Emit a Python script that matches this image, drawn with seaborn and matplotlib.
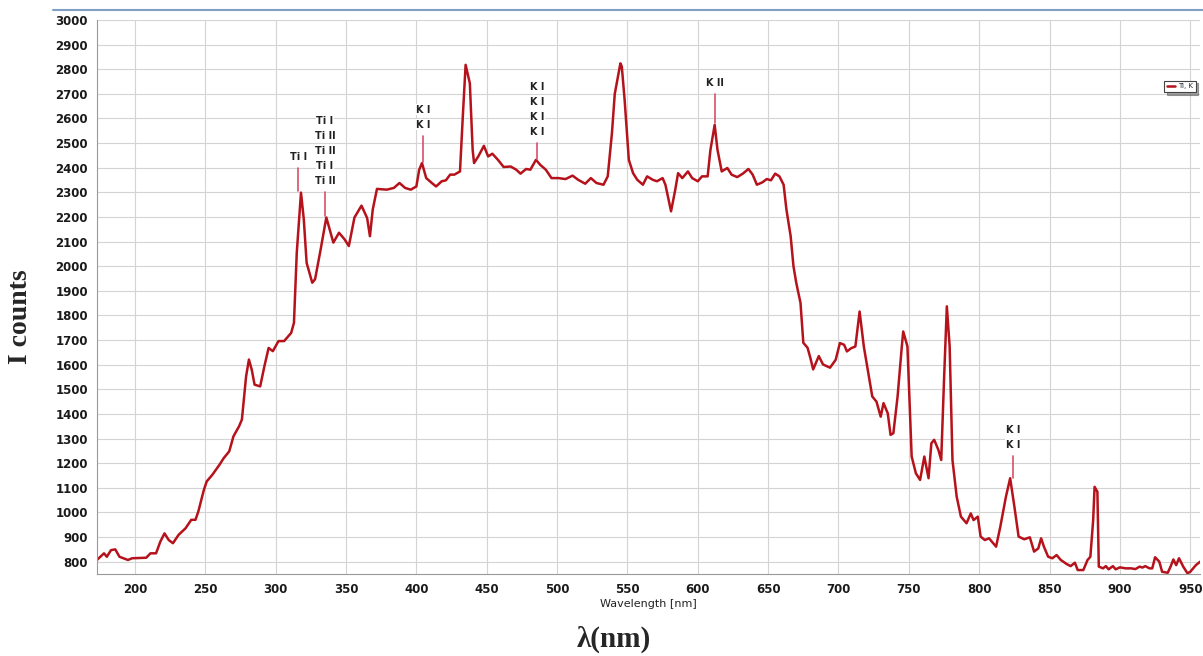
import matplotlib
matplotlib.use("Agg")
from matplotlib import pyplot as plt
from matplotlib.lines import Line2D
import matplotlib.ticker as ticker
import seaborn as sns
import pandas as pd

# spectrum: wavelength [nm] and intensity [counts]
wavelength = [
    173, 178, 180, 183, 186, 189, 195, 198, 208, 211, 215, 218, 221, 224, 227, 231,
    236, 240, 243, 245, 249, 251, 255, 260, 263, 267, 270, 274, 276, 279, 281, 283,
    285, 289, 292, 295, 298, 302, 306, 311, 313, 315, 318, 320, 322, 326, 328, 332,
    336, 338, 341, 345, 349, 352, 356, 361, 365, 367, 369, 372, 379, 384, 388, 392,
    396, 400, 402, 404, 407, 411, 414, 418, 421, 424, 427, 431, 433, 435, 438, 440,
    441, 444, 448, 451, 454, 458, 462, 467, 471, 474, 478, 481, 485, 488, 492, 496,
    501, 506, 511, 515, 520, 524, 528, 533, 536, 539, 541, 543, 545, 546, 548, 551,
    554, 557, 561, 564, 568, 571, 575, 577, 581, 584, 586, 589, 593, 596, 600, 603,
    607, 609, 612, 614, 617, 621, 624, 628, 632, 636, 639, 642, 646, 649, 652, 655,
    658, 661, 663, 666, 668, 670, 673, 675, 678, 680, 682, 686, 689, 694, 698, 701,
    704, 706, 709, 712, 715, 718, 720, 724, 727, 730, 732, 735, 737, 739, 742, 745,
    746, 749, 752, 755, 758, 761, 764, 766, 768, 771, 773, 775, 777, 779, 781, 784,
    787, 791, 794, 796, 799, 801, 804, 807, 812, 815, 819, 822, 825, 828, 832, 836,
    839, 842, 844, 846, 849, 852, 855, 858, 862, 865, 868, 870, 874, 877, 879, 881,
    882, 884, 885, 888, 890, 892, 895, 897, 900, 904, 908, 911, 914, 916, 918, 921,
    923, 925, 928, 930, 934, 936, 938, 940, 942, 945, 948, 950, 954, 957,
]
counts = [
    807, 834, 820, 847, 850, 820, 807, 814, 816, 834, 834, 881, 915, 888, 875, 909,
    936, 970, 970, 1003, 1092, 1126, 1153, 1193, 1220, 1248, 1309, 1350, 1377, 1553, 1621, 1580,
    1519, 1512, 1594, 1668, 1655, 1696, 1696, 1729, 1770, 2055, 2299, 2190, 2014, 1933, 1947, 2069,
    2198, 2157, 2096, 2136, 2109, 2082, 2198, 2246, 2196, 2122, 2230, 2314, 2311, 2318, 2338, 2318,
    2311, 2324, 2392, 2419, 2358, 2338, 2324, 2345, 2349, 2372, 2372, 2385, 2608, 2818, 2743, 2473,
    2419, 2446, 2489, 2446, 2457, 2432, 2403, 2405, 2392, 2376, 2395, 2392, 2432, 2412, 2392, 2358,
    2358, 2354, 2368, 2351, 2335, 2358, 2338, 2331, 2365, 2541, 2700, 2762, 2824, 2811, 2676, 2432,
    2378, 2351, 2331, 2365, 2351, 2345, 2358, 2331, 2223, 2311, 2378, 2358, 2385, 2358, 2345, 2365,
    2365, 2473, 2574, 2473, 2385, 2399, 2372, 2362, 2376, 2395, 2372, 2331, 2341, 2354, 2349, 2376,
    2365, 2331, 2230, 2122, 2000, 1932, 1851, 1689, 1669, 1628, 1581, 1635, 1601, 1588, 1620, 1688,
    1681, 1654, 1667, 1674, 1816, 1674, 1606, 1471, 1450, 1389, 1444, 1403, 1315, 1322, 1471, 1674,
    1735, 1674, 1227, 1159, 1132, 1227, 1139, 1281, 1295, 1254, 1213, 1538, 1837, 1674, 1213, 1064,
    983, 956, 996, 969, 983, 902, 888, 895, 861, 942, 1064, 1139, 1024, 902, 891, 899,
    841, 854, 895, 861, 820, 814, 827, 807, 791, 782, 796, 766, 766, 807, 820, 969,
    1104, 1084, 780, 773, 782, 769, 782, 769, 777, 773, 773, 770, 780, 776, 782, 773,
    773, 818, 800, 759, 755, 780, 809, 786, 814, 780, 753, 759, 786, 800,
]

# line identifications: position, label lines, text top and marker span
ident_x = [316, 335, 405, 486, 612.5, 824]
ident_text = [
    ["Ti I"],
    ["Ti I", "Ti II", "Ti II", "Ti I", "Ti II"],
    ["K I", "K I"],
    ["K I", "K I", "K I", "K I"],
    ["K II"],
    ["K I", "K I"],
]
ident_line_top = [2400, 2300, 2530, 2500, 2700, 1230]
ident_line_bottom = [2305, 2205, 2425, 2435, 2580, 1140]

df = pd.DataFrame({"wavelength": wavelength, "counts": counts})

sns.set_style("whitegrid")
plt.rcParams["font.family"] = ["DejaVu Sans"]

fig = plt.figure(figsize=(12.03, 6.56), dpi=100)
ax = fig.add_axes([0.0806, 0.125, 0.917, 0.8445])

sns.lineplot(data=df, x="wavelength", y="counts", ax=ax, color="#b5121b",
             linewidth=1.8, label="Ti, K")

ax.set_xlim(173, 957)
ax.set_ylim(750, 3000)
ax.xaxis.set_major_locator(ticker.MultipleLocator(50))
ax.xaxis.set_minor_locator(ticker.MultipleLocator(12.5))
ax.yaxis.set_major_locator(ticker.MultipleLocator(100))
ax.grid(True, which="major", color="#d4d4d4", linewidth=0.8)
ax.tick_params(axis="both", which="major", labelsize=8.5, labelcolor="#1a1a1a",
               length=3, color="#888888", direction="out")
ax.tick_params(axis="x", which="minor", length=2, color="#888888")
for lab in ax.get_xticklabels() + ax.get_yticklabels():
    lab.set_fontweight("semibold")

for side in ["top", "right"]:
    ax.spines[side].set_visible(False)
ax.spines["left"].set_color("#999999")
ax.spines["left"].set_linestyle((0, (2, 1)))
ax.spines["bottom"].set_color("#999999")

ax.set_xlabel("Wavelength [nm]", fontsize=8, color="#222222", labelpad=2)
ax.set_ylabel("")

# identification markers
for x, texts, top, bottom in zip(ident_x, ident_text, ident_line_top, ident_line_bottom):
    ax.plot([x, x], [bottom, top], color="#d9506a", linewidth=1.2)
    y = top + 25
    for t in reversed(texts):
        ax.text(x, y, t, ha="center", va="bottom", fontsize=7, color="#222222",
                fontweight="semibold",
                bbox=dict(facecolor="white", edgecolor="none", pad=0.2))
        y += 61

leg = ax.legend(loc="upper right", bbox_to_anchor=(0.999, 0.897), fontsize=5,
                frameon=True, fancybox=False, shadow=True, handlelength=1.2,
                borderpad=0.4, handletextpad=0.4)
leg.get_frame().set_edgecolor("#444444")
leg.get_frame().set_linewidth(0.8)

# outer labels of the figure
fig.text(0.017, 0.518, "I counts", rotation=90, ha="center", va="center",
         fontsize=20, fontweight="bold", family="Liberation Serif")
fig.text(0.51, 0.025, "λ(nm)", ha="center", va="center",
         fontsize=21, fontweight="bold", family="Liberation Serif")
fig.add_artist(Line2D([0.044, 1.0], [0.985, 0.985], transform=fig.transFigure,
                      color="#7f9fc4", linewidth=1.5))

fig.savefig("out.png", dpi=100)
